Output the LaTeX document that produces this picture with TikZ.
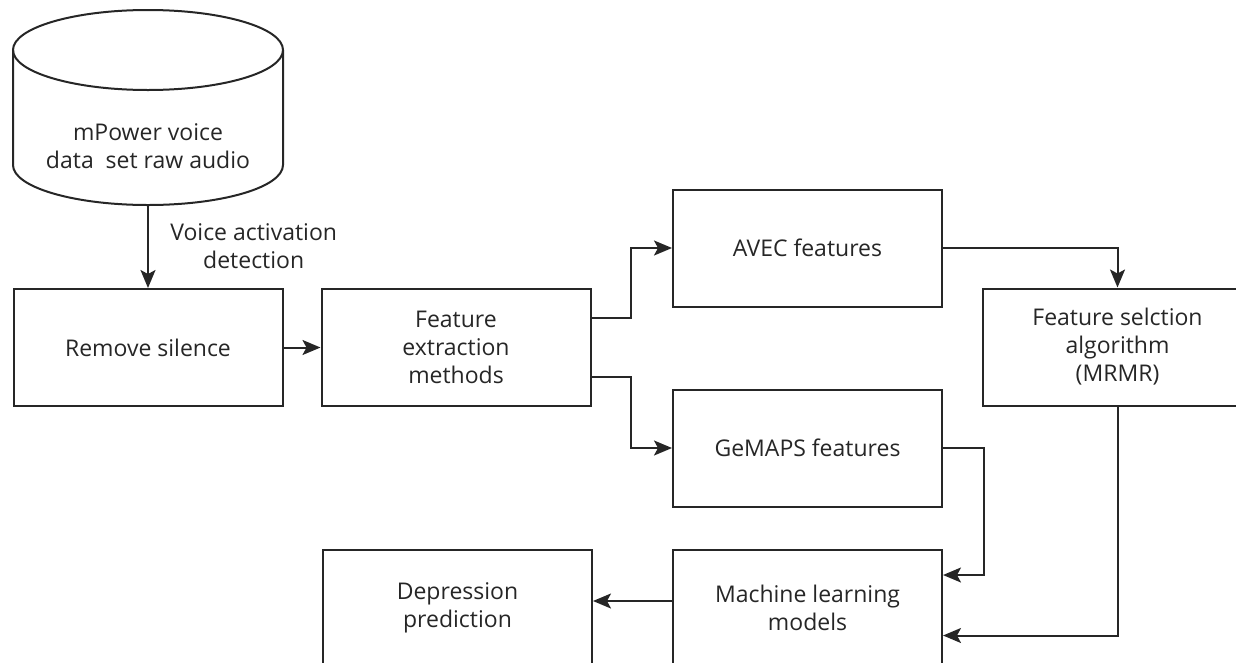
\documentclass[tikz,border=0pt]{standalone}
\usepackage{fontspec}
\setmainfont{Open Sans}
\usetikzlibrary{arrows.meta,positioning}
\tikzset{
  stage/.style={draw=black!85, line width=2pt, minimum width=269pt, minimum height=117pt, align=center, text=black!85, font=\fontsize{23}{28}\selectfont},
  caption/.style={align=center, text=black!85, font=\fontsize{23}{28}\selectfont},
  drum/.style={draw=black!85, line width=2pt},
  flow/.style={-{Stealth[length=18pt, width=15pt, inset=4pt]}, line width=2pt, draw=black!85}
}

\begin{document}
\begin{tikzpicture}[node distance=37pt]
  \useasboundingbox (0,0) rectangle (1236pt,-662pt);
  % data store drawn as a drum
  \draw[drum] (13pt,-50pt) -- (13pt,-165pt) arc[start angle=180, end angle=360, x radius=135pt, y radius=40pt] -- (283pt,-50pt);
  \draw[drum] (148pt,-50pt) ellipse [x radius=135pt, y radius=40pt];
  \node[caption] (db) at (148pt,-146pt) {mPower voice\\data\ \ set raw audio};
  \coordinate (dbout) at (148pt,-205pt);

  \node[stage] (rm) at (148pt,-347.5pt) {Remove silence};
  \node[stage, right=of rm] (feat) {Feature\\extraction\\methods};
  \node[stage] (avec) at (807.5pt,-248pt) {AVEC features};
  \node[stage, below=81pt of avec] (gemaps) {GeMAPS features};
  \node[stage] (fsel) at (1117.5pt,-347pt) {Feature selction\\algorithm\\(MRMR)};
  \node[stage, below=41pt of gemaps] (ml) {Machine learning\\models};
  \node[stage, left=79pt of ml] (dep) {Depression\\prediction};

  \draw[flow] (dbout) -- node[caption, right=18pt] (vad) {Voice activation\\detection} (rm);
  \draw[flow] (rm) -- (feat);
  \draw[flow] ([yshift=29.5pt]feat.east) -- ++(39pt,0) |- (avec);
  \draw[flow] ([yshift=-29.5pt]feat.east) -- ++(39pt,0) |- (gemaps);
  \draw[flow] (avec) -| (fsel);
  \draw[flow] (gemaps.east) -- ++(41pt,0) |- ([yshift=33pt]ml.east);
  \draw[flow] (fsel) |- ([yshift=-27.5pt]ml.east);
  \draw[flow] ([yshift=7pt]ml.west) -- ([yshift=7pt]dep.east);
\end{tikzpicture}
\end{document}
